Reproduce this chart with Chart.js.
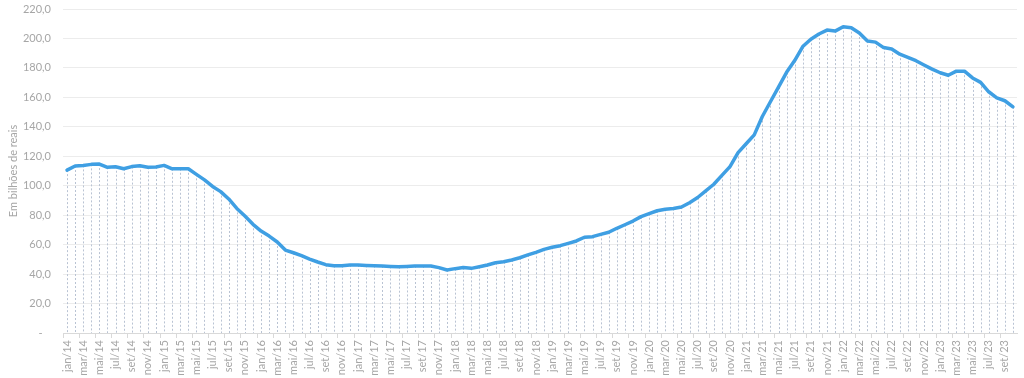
<!DOCTYPE html>
<html>
<head>
<meta charset="utf-8">
<script src="https://cdn.jsdelivr.net/npm/chart.js@4/dist/chart.umd.min.js"></script>
<style>
  html, body { margin: 0; padding: 0; background: #fff; }
  #wrap { width: 1024px; height: 378px; }
</style>
</head>
<body>
<div id="wrap"><canvas id="chart"></canvas></div>
<script>
const months = ['jan', 'fev', 'mar', 'abr', 'mai', 'jun', 'jul', 'ago', 'set', 'out', 'nov', 'dez'];
const years = ['14', '15', '16', '17', '18', '19', '20', '21', '22', '23'];

// Em bilhões de reais, jan/14 .. out/23
const values = [
    110.6, 113.4, 113.8, 114.5, 114.7, 112.5, 112.9, 111.5, 113.0, 113.6, 112.5, 112.7,
    113.8, 111.5, 111.5, 111.5, 107.7, 104.0, 99.5, 96.0, 91.0, 84.6, 79.4, 73.8,
    69.2, 65.8, 61.8, 56.3, 54.5, 52.5, 50.2, 48.2, 46.4, 45.7, 45.7, 46.2,
    46.2, 45.9, 45.7, 45.5, 45.2, 45.0, 45.2, 45.5, 45.5, 45.5, 44.4, 42.8,
    43.7, 44.4, 43.9, 45.0, 46.2, 47.7, 48.4, 49.6, 51.1, 53.0, 54.8, 56.8,
    58.2, 59.3, 60.9, 62.5, 65.0, 65.4, 67.0, 68.4, 71.1, 73.5, 76.0, 79.0,
    81.0, 83.0, 84.0, 84.5, 85.5, 88.5, 92.0, 96.5, 101.0, 107.0, 113.0, 122.5,
    128.5, 134.5, 147.0, 157.0, 167.0, 177.0, 185.0, 194.5, 199.5, 203.0, 205.7, 205.0,
    208.0, 207.3, 203.7, 198.2, 197.5, 193.8, 192.8, 189.3, 187.2, 184.9, 182.0, 179.2,
    176.7, 175.0, 177.8, 177.8, 173.2, 170.2, 163.8, 159.7, 157.7, 153.6
];

const labels = [];
years.forEach(y => months.forEach(m => labels.push(m + '/' + y)));
labels.length = values.length;

const FONT = 'Lato, "Open Sans", sans-serif';
const TEXT = '#a6a6a6';

// dashed drop line from each point down to the axis
const dropLines = {
    id: 'dropLines',
    beforeDatasetsDraw(chart) {
        const { ctx, scales } = chart;
        const base = scales.y.getPixelForValue(0);
        const meta = chart.getDatasetMeta(0);
        ctx.save();
        ctx.strokeStyle = '#b9c3d3';
        ctx.lineWidth = 1;
        ctx.setLineDash([2, 2]);
        meta.data.forEach(pt => {
            const x = Math.round(pt.x) + 0.5;
            ctx.beginPath();
            ctx.moveTo(x, pt.y);
            ctx.lineTo(x, base);
            ctx.stroke();
        });
        ctx.restore();
    }
};

new Chart(document.getElementById('chart'), {
    type: 'line',
    data: {
        labels: labels,
        datasets: [{
            data: values,
            borderColor: '#3f9fe3',
            borderWidth: 3.5,
            pointRadius: 0,
            tension: 0,
            borderJoinStyle: 'round',
            borderCapStyle: 'round'
        }]
    },
    options: {
        responsive: true, maintainAspectRatio: false, animation: false,
        layout: { padding: { top: 9, right: 7, left: 0, bottom: 0 } },
        plugins: { legend: { display: false }, tooltip: { enabled: false } },
        scales: {
            x: {
                offset: true,
                grid: {
                    offset: true, drawOnChartArea: false, drawTicks: true, tickLength: 5,
                    color: c => c.index % 2 === 0 ? '#d9d9d9' : 'rgba(0,0,0,0)'
                },
                border: { display: true, color: '#d9d9d9' },
                ticks: {
                    autoSkip: false, maxRotation: 90, minRotation: 90, padding: 2,
                    color: TEXT, font: { family: FONT, size: 11 },
                    callback: (v, i) => i % 2 === 0 ? labels[i] : ''
                },
                afterFit: s => { s.height = 45; s.paddingLeft = 0; s.paddingRight = 0; }
            },
            y: {
                min: 0, max: 220,
                ticks: {
                    stepSize: 20, padding: 12, color: TEXT, font: { family: FONT, size: 11 },
                    callback: v => v === 0 ? '-   ' : v.toFixed(1).replace('.', ',')
                },
                grid: { color: '#ececec', drawTicks: false },
                border: { display: false },
                title: {
                    display: true, text: 'Em bilhões de reais', color: TEXT,
                    font: { family: FONT, size: 11 }, padding: { top: 7, bottom: 0 }
                },
                afterFit: s => { s.width = 63; s.paddingTop = 0; s.paddingBottom = 0; }
            }
        }
    },
    plugins: [dropLines]
});
</script>
</body>
</html>
